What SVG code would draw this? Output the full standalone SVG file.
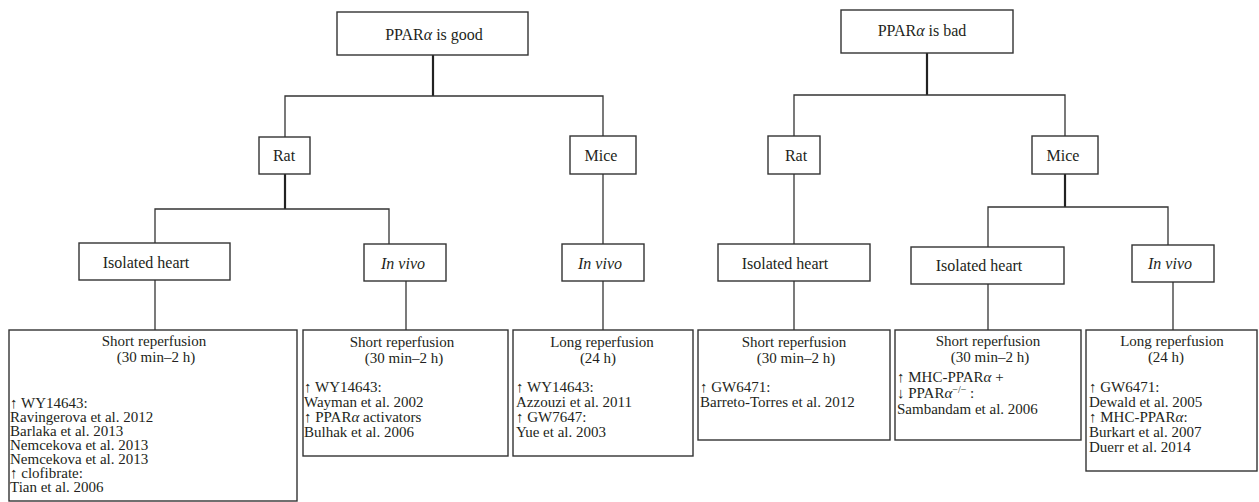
<svg xmlns="http://www.w3.org/2000/svg" width="1259" height="502" viewBox="0 0 1259 502">
<style>
  .box { fill: #fff; stroke: #333; stroke-width: 1.4; }
  .t { font-family: "Liberation Serif", "Times New Roman", serif; font-size: 16px; fill: #231f20; }
  .s { font-size: 15px; }
  .c { text-anchor: middle; }
  .i { font-style: italic; }
  .ln { stroke: #333; stroke-width: 1.3; fill: none; }
  .stem { stroke: #222; stroke-width: 2.2; fill: none; }
</style>
<rect width="1259" height="502" fill="#fff"/>
<g id="connectors">
  <line class="stem" x1="433" y1="55" x2="433" y2="96"/>
  <polyline class="ln" points="285,137 285,96 603,96 603,136"/>
  <line class="stem" x1="285" y1="174" x2="285" y2="209"/>
  <polyline class="ln" points="155,243 155,209 389,209 389,244"/>
  <line class="ln" x1="155" y1="280" x2="155" y2="330"/>
  <line class="ln" x1="406" y1="281" x2="406" y2="330"/>
  <line class="ln" x1="603" y1="174" x2="603" y2="244"/>
  <line class="ln" x1="603" y1="281" x2="603" y2="330"/>
  <line class="stem" x1="927" y1="53" x2="927" y2="95"/>
  <polyline class="ln" points="794,136 794,95 1065,95 1065,136"/>
  <line class="ln" x1="794" y1="174" x2="794" y2="244"/>
  <line class="ln" x1="794" y1="281" x2="794" y2="330"/>
  <line class="stem" x1="1065" y1="174" x2="1065" y2="207"/>
  <polyline class="ln" points="988,247 988,207 1168,207 1168,245"/>
  <line class="ln" x1="988" y1="284" x2="988" y2="330"/>
  <line class="ln" x1="1173" y1="282" x2="1173" y2="330"/>
</g>
<g id="good">
  <rect class="box" x="337" y="12" width="191" height="43"/>
  <text class="t c" x="434" y="40">PPAR<tspan class="i">α</tspan> is good</text>
</g>
<g id="bad">
  <rect class="box" x="841" y="10" width="172" height="43"/>
  <text class="t c" x="922" y="36">PPAR<tspan class="i">α</tspan> is bad</text>
</g>
<g id="rat-good">
  <rect class="box" x="259" y="137" width="51" height="37"/>
  <text class="t c" x="284" y="161">Rat</text>
</g>
<g id="mice-good">
  <rect class="box" x="570" y="136" width="66" height="38"/>
  <text class="t c" x="601" y="161">Mice</text>
</g>
<g id="rat-bad">
  <rect class="box" x="768" y="136" width="52" height="38"/>
  <text class="t c" x="796" y="161">Rat</text>
</g>
<g id="mice-bad">
  <rect class="box" x="1032" y="136" width="66" height="38"/>
  <text class="t c" x="1063" y="161">Mice</text>
</g>
<g id="isolated-good">
  <rect class="box" x="79" y="243" width="151" height="37"/>
  <text class="t c" x="146" y="268">Isolated heart</text>
</g>
<g id="invivo-rat-good">
  <rect class="box" x="364" y="244" width="82" height="37"/>
  <text class="t c i" x="403" y="269">In vivo</text>
</g>
<g id="invivo-mice-good">
  <rect class="box" x="562" y="244" width="82" height="37"/>
  <text class="t c i" x="600" y="269">In vivo</text>
</g>
<g id="isolated-rat-bad">
  <rect class="box" x="718" y="244" width="152" height="37"/>
  <text class="t c" x="785" y="269">Isolated heart</text>
</g>
<g id="isolated-mice-bad">
  <rect class="box" x="911" y="247" width="153" height="37"/>
  <text class="t c" x="979" y="271">Isolated heart</text>
</g>
<g id="invivo-mice-bad">
  <rect class="box" x="1132" y="245" width="82" height="37"/>
  <text class="t c i" x="1170" y="269">In vivo</text>
</g>
<g id="box1">
  <rect class="box" x="9" y="330" width="288" height="171"/>
  <text class="t s c" x="154" y="346">Short reperfusion</text>
  <text class="t s c" x="156" y="362">(30 min–2 h)</text>
  <text class="t s" x="10" y="408">↑ WY14643:</text>
  <text class="t s" x="10" y="422">Ravingerova et al. 2012</text>
  <text class="t s" x="10" y="436">Barlaka et al. 2013</text>
  <text class="t s" x="10" y="450">Nemcekova et al. 2013</text>
  <text class="t s" x="10" y="464">Nemcekova et al. 2013</text>
  <text class="t s" x="10" y="478">↑ clofibrate:</text>
  <text class="t s" x="10" y="492">Tian et al. 2006</text>
</g>
<g id="box2">
  <rect class="box" x="303" y="330" width="205" height="126"/>
  <text class="t s c" x="402" y="347">Short reperfusion</text>
  <text class="t s c" x="404" y="363">(30 min–2 h)</text>
  <text class="t s" x="304" y="392">↑ WY14643:</text>
  <text class="t s" x="304" y="407">Wayman et al. 2002</text>
  <text class="t s" x="304" y="422">↑ PPAR<tspan class="i">α</tspan> activators</text>
  <text class="t s" x="304" y="437">Bulhak et al. 2006</text>
</g>
<g id="box3">
  <rect class="box" x="513" y="330" width="180" height="126"/>
  <text class="t s c" x="602" y="347">Long reperfusion</text>
  <text class="t s c" x="598" y="363">(24 h)</text>
  <text class="t s" x="516" y="392">↑ WY14643:</text>
  <text class="t s" x="516" y="407">Azzouzi et al. 2011</text>
  <text class="t s" x="516" y="422">↑ GW7647:</text>
  <text class="t s" x="516" y="437">Yue et al. 2003</text>
</g>
<g id="box4">
  <rect class="box" x="698" y="330" width="192" height="110"/>
  <text class="t s c" x="794" y="347">Short reperfusion</text>
  <text class="t s c" x="796" y="363">(30 min–2 h)</text>
  <text class="t s" x="700" y="392">↑ GW6471:</text>
  <text class="t s" x="700" y="407">Barreto-Torres et al. 2012</text>
</g>
<g id="box5">
  <rect class="box" x="895" y="330" width="186" height="110"/>
  <text class="t s c" x="988" y="346">Short reperfusion</text>
  <text class="t s c" x="990" y="362">(30 min–2 h)</text>
  <text class="t s" x="897" y="382">↑ MHC-PPAR<tspan class="i">α</tspan> +</text>
  <text class="t s" x="897" y="398">↓ PPAR<tspan class="i">α</tspan><tspan font-size="10" dy="-5">−/−</tspan><tspan dy="5"> :</tspan></text>
  <text class="t s" x="897" y="414">Sambandam et al. 2006</text>
</g>
<g id="box6">
  <rect class="box" x="1086" y="330" width="171" height="141"/>
  <text class="t s c" x="1172" y="346">Long reperfusion</text>
  <text class="t s c" x="1166" y="362">(24 h)</text>
  <text class="t s" x="1089" y="392">↑ GW6471:</text>
  <text class="t s" x="1089" y="407">Dewald et al. 2005</text>
  <text class="t s" x="1089" y="422">↑ MHC-PPAR<tspan class="i">α</tspan>:</text>
  <text class="t s" x="1089" y="437">Burkart et al. 2007</text>
  <text class="t s" x="1089" y="452">Duerr et al. 2014</text>
</g>
</svg>
